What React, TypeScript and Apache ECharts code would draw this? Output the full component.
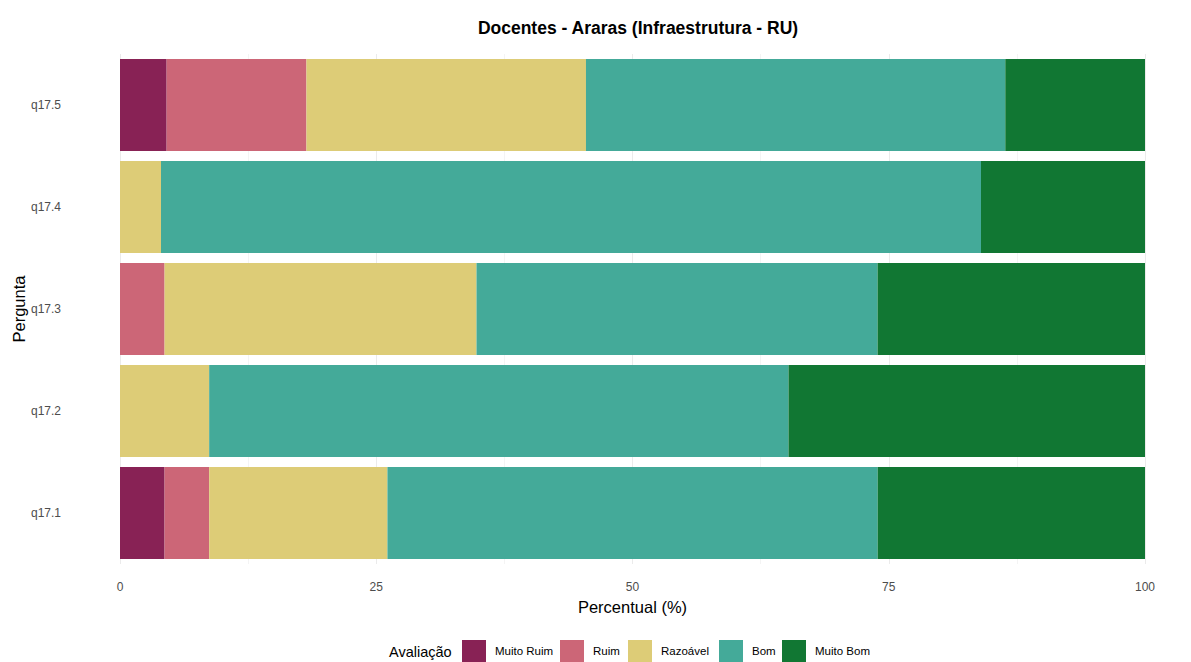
import React, { useEffect, useRef } from "react";
import * as echarts from "echarts";

const categories = ["q17.1", "q17.2", "q17.3", "q17.4", "q17.5"];
const levels = ["Muito Ruim", "Ruim", "Razoável", "Bom", "Muito Bom"];
const colors = ["#882255", "#CC6677", "#DDCC77", "#44AA99", "#117733"];
const muitoRuim = [4.35, 0, 0, 0, 4.55];
const ruim = [4.35, 0, 4.35, 0, 13.64];
const razoavel = [17.39, 8.7, 30.43, 4.0, 27.27];
const bom = [47.83, 56.52, 39.13, 80.0, 40.91];
const muitoBom = [26.09, 34.78, 26.09, 16.0, 13.64];
const xTicks = [0, 25, 50, 75, 100];

const seriesValues = [muitoRuim, ruim, razoavel, bom, muitoBom];
const legendLefts = [457, 555, 623, 714, 777];
const FONT = "'Liberation Sans', Arial, sans-serif";

export default function App() {
  const ref = useRef<HTMLDivElement>(null);
  useEffect(() => {
    if (!ref.current) return;
    const chart = echarts.init(ref.current, null, { renderer: "svg" });
    chart.setOption({
      animation: false,
      backgroundColor: "#ffffff",
      textStyle: { fontFamily: FONT },
      title: {
        text: "Docentes - Araras (Infraestrutura - RU)",
        left: 633,
        textAlign: "center",
        top: 14,
        textStyle: { fontSize: 17.5, fontWeight: "bold", color: "#000", fontFamily: FONT },
      },
      grid: { left: 120, right: 46, top: 54, bottom: 98, containLabel: false, outerBoundsMode: "none" },
      xAxis: {
        type: "value",
        min: xTicks[0],
        max: xTicks[xTicks.length - 1],
        interval: 25,
        name: "Percentual (%)",
        nameLocation: "middle",
        nameGap: 34,
        nameMoveOverlap: false,
        nameTextStyle: { fontSize: 16.5, color: "#000", fontFamily: FONT },
        axisLine: { show: false },
        axisTick: { show: false },
        axisLabel: { fontSize: 12, color: "#4d4d4d", margin: 17, fontFamily: FONT },
        splitLine: { show: true, lineStyle: { color: "#ebebeb", width: 1 } },
        minorTick: { show: false, splitNumber: 2 },
        minorSplitLine: { show: true, lineStyle: { color: "#f4f4f4", width: 1 } },
      },
      yAxis: {
        type: "category",
        data: categories,
        name: "Pergunta",
        nameLocation: "middle",
        nameGap: 93,
        nameRotate: 90,
        nameMoveOverlap: false,
        nameTextStyle: { fontSize: 16.5, color: "#000", fontFamily: FONT },
        axisLine: { show: false },
        axisTick: { show: false },
        axisLabel: { fontSize: 12, color: "#4d4d4d", margin: 59, fontFamily: FONT },
        splitLine: { show: false },
      },
      legend: levels.map((name, i) => ({
        data: [name],
        left: legendLefts[i],
        top: 635,
        itemWidth: 24,
        itemHeight: 22,
        icon: "rect",
        textStyle: { fontSize: 11.5, color: "#000", fontFamily: FONT, padding: [3, 0, 0, 4] },
      })),
      graphic: [
        {
          type: "text",
          left: 389,
          top: 644,
          style: { text: "Avaliação", fontSize: 14.5, fill: "#000", fontFamily: FONT },
        },
      ],
      series: levels.map((name, i) => ({
        name,
        type: "bar",
        stack: "total",
        barCategoryGap: "10%",
        itemStyle: { color: colors[i] },
        data: seriesValues[i],
      })),
    });
    return () => chart.dispose();
  }, []);
  return <div ref={ref} style={{ width: 1191, height: 662, position: "absolute", left: 0, top: 0 }} />;
}
